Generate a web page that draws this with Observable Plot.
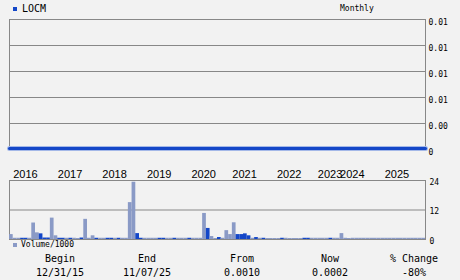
<!DOCTYPE html>
<html><head><meta charset="utf-8">
<script src="https://cdn.jsdelivr.net/npm/d3@7"></script>
<script src="https://cdn.jsdelivr.net/npm/@observablehq/plot@0.6"></script>
<style>
html,body{margin:0;padding:0;background:#f2f2f2;}
#wrap{position:relative;width:460px;height:280px;background:#f2f2f2;font-family:"DejaVu Sans Mono",monospace;color:#000;overflow:hidden}
.abs{position:absolute;white-space:nowrap;line-height:12px}
.plot{position:absolute;left:0}
</style></head><body><div id="wrap"></div>
<script>
const symbol = "LOCM";
const period = "Monthly";
const yearLabels = ["2016","2017","2018","2019","2020","2021","2022","2023","2024","2025"];
const yearStartIndex = [1,13,25,37,49,60,72,83,89,101];
const monthCount = 112;
const priceTicks = [0,0.0025,0.005,0.0075,0.01,0.0125];
const priceIndex = [0,12,24,36,48,60,72,84,96,112];
const priceValues = [0.0001,0.0001,0.0001,0.0001,0.0001,0.0001,0.0001,0.0001,0.0001,0.0001];
const volumes = [
  2.0,0.5,0.5,0.5,0.5,0.5,6.7,2.7,2.3,0.6,
  0.6,8.7,1.5,0.5,0.5,0.5,0.5,0.5,0.4,0.6,
  8.2,0.5,1.5,0.5,0.5,0.5,0.5,0.5,0.5,0.5,
  0.5,0.5,15.0,23.3,2.4,0.5,0.5,0.5,0.5,0.5,
  0.5,0.5,0.5,0.5,0.5,0.5,0.5,0.5,0.5,0.5,
  0.5,0.5,10.6,4.5,1.2,0.4,0.8,0.5,3.6,2.0,
  6.8,2.0,2.0,2.3,1.5,0.5,0.8,0.5,0.5,0.4,
  0.4,0.4,0.4,0.5,0.5,0.4,0.4,0.4,0.4,0.5,
  0.5,0.5,0.5,0.5,0.5,0.5,0.5,0.5,0.5,2.4,
  0.5,0.4,0.5,0.5,0.5,0.5,0.5,0.5,0.5,0.5,
  0.5,0.5,0.5,0.5,0.5,0.5,0.5,0.5,0.5,0.5,
  0.5,0.5
];
const upMonth = [
  0,0,0,1,1,0,0,0,1,1,
  1,0,0,1,1,0,1,0,0,1,
  0,0,0,1,0,0,1,1,0,1,
  0,0,0,0,1,1,0,0,0,0,
  1,1,0,0,1,0,0,0,1,0,
  0,0,0,1,0,0,1,0,0,0,
  0,1,1,1,1,0,1,0,1,0,
  0,0,0,1,0,0,0,0,0,1,
  1,0,0,0,0,0,1,0,0,0,
  0,0,0,0,0,0,0,0,0,0,
  0,0,0,0,0,0,0,0,0,0,
  0,0
];
const volumeTicks = [0,12,24];
const volumeLabel = "Volume/1000";
const tableHeaders = ["Begin","End","From","Now","% Change"];
const tableValues = ["12/31/15","11/07/25","0.0010","0.0002","-80%"];
const tableCenters = [60,147,242,330,414];

const DARK = "#1447c8", LIGHT = "#8a9ac6", GRID = "#888888";
const wrap = document.getElementById("wrap");

const priceData = priceIndex.map((i,k)=>({i, v: priceValues[k]}));
const volData = volumes.map((v,i)=>({i, v, up: upMonth[i]}));
const yearData = yearLabels.map((t,k)=>({t, i: yearStartIndex[k]}));

const main = Plot.plot({
  width: 460, height: 160,
  marginLeft: 9, marginRight: 35, marginTop: 19, marginBottom: 11,
  style: {background: "transparent", fontFamily: "DejaVu Sans Mono", fontSize: "8px", color: "#000"},
  x: {domain: [0, monthCount], axis: null},
  y: {domain: [0, 0.0125], axis: null},
  marks: [
    Plot.gridY(priceTicks, {stroke: GRID, strokeOpacity: 1, strokeWidth: 1}),
    Plot.frame({stroke: GRID, strokeWidth: 1}),
    Plot.axisY(priceTicks, {anchor: "right", tickSize: 0, tickPadding: 3, dy: 3, label: null,
      tickFormat: d => d === 0 ? "0" : d.toFixed(2), fill: "#000"}),
    Plot.line(priceData, {x: "i", y: "v", stroke: "#a4b8e8", strokeWidth: 5}),
    Plot.line(priceData, {x: "i", y: "v", stroke: DARK, strokeWidth: 3})
  ]
});
main.classList.add("plot"); main.style.top = "0px";
wrap.appendChild(main);

const vol = Plot.plot({
  width: 460, height: 90,
  marginLeft: 9, marginRight: 35, marginTop: 20, marginBottom: 11,
  style: {background: "transparent", fontFamily: "DejaVu Sans Mono", fontSize: "8px", color: "#000"},
  x: {domain: [0, monthCount], axis: null},
  y: {domain: [0, 24], axis: null},
  color: {domain: [0,1], range: [LIGHT, DARK]},
  marks: [
    Plot.gridY(volumeTicks, {stroke: GRID, strokeOpacity: 1, strokeWidth: 1}),
    Plot.frame({stroke: GRID, strokeWidth: 1}),
    Plot.axisY(volumeTicks, {anchor: "right", tickSize: 0, tickPadding: 4, dy: 1.5, label: null, fill: "#000"}),
    Plot.rectY(volData, {x1: "i", x2: d => d.i + 1, y: "v", fill: "up", inset: 0}),
    Plot.text(yearData, {x: "i", text: "t", frameAnchor: "top", dy: -10, textAnchor: "start",
      fontFamily: "Liberation Sans", fontSize: 11, fill: "#000"})
  ]
});
vol.classList.add("plot"); vol.style.top = "160px";
wrap.appendChild(vol);

function add(html, css){ const d=document.createElement("div"); d.className="abs"; d.innerHTML=html; Object.assign(d.style, css); wrap.appendChild(d); return d; }
add("", {left:"13px", top:"7px", width:"4px", height:"4px", background:DARK});
add(symbol, {left:"22px", top:"3px", fontSize:"10px"});
add(period, {left:"340px", top:"3px", fontSize:"8px"});
add("", {left:"13px", top:"243px", width:"4px", height:"4px", background:LIGHT});
add(volumeLabel, {left:"21px", top:"239px", fontSize:"8px"});
tableHeaders.forEach((h,k)=>{
  add(h, {left:(tableCenters[k]-50)+"px", width:"100px", textAlign:"center", top:"253px", fontSize:"10px"});
  add(tableValues[k], {left:(tableCenters[k]-50)+"px", width:"100px", textAlign:"center", top:"267px", fontSize:"10px"});
});
</script></body></html>
